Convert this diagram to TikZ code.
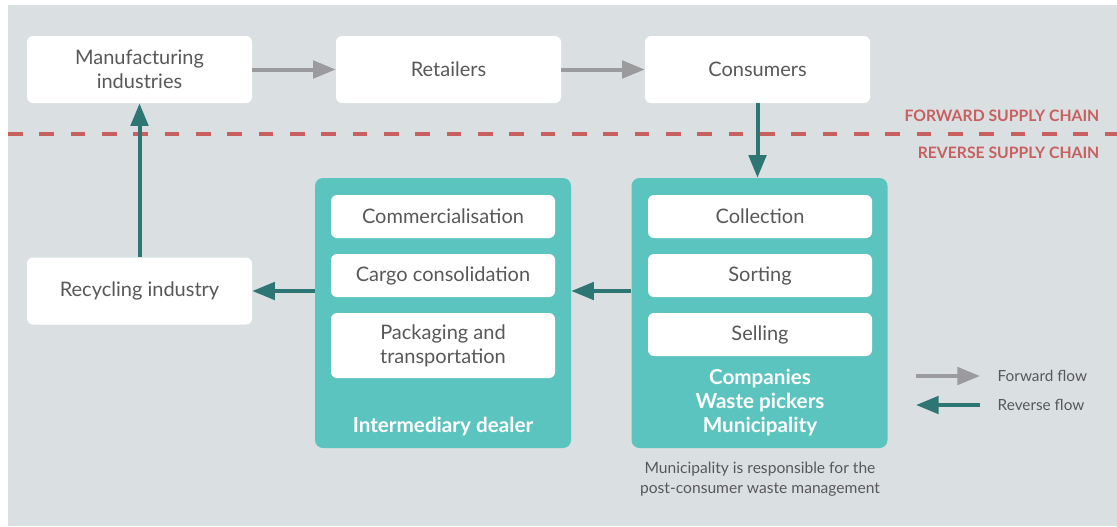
\documentclass[tikz,border=0pt]{standalone}
\usepackage{fontspec}
\setmainfont{Lato}
\usetikzlibrary{arrows.meta,positioning}
\definecolor{bggray}{HTML}{DADFE1}
\definecolor{tealbox}{HTML}{5BC4BE}
\definecolor{tealdark}{HTML}{2D7674}
\definecolor{flowgray}{HTML}{9B9B9D}
\definecolor{chainred}{HTML}{C8605F}
\definecolor{txtgray}{HTML}{58585A}

\begin{document}
\begin{tikzpicture}[x=0.75pt,y=-0.75pt,
    box/.style={fill=white,rounded corners=4.5pt,text=txtgray,align=center,
      font=\fontsize{15}{18}\selectfont,minimum width=168.75pt,minimum height=50.25pt,inner sep=0pt},
    task/.style={box,minimum width=168pt,minimum height=32.25pt},
    group/.style={fill=tealbox,rounded corners=6pt,minimum width=192pt,minimum height=202.5pt,inner sep=0pt},
    grouplabel/.style={text=white,align=center,font=\bfseries\fontsize{15.5}{18}\selectfont},
    fwd/.style={flowgray,line width=3pt,-{Triangle[length=17pt,width=13pt]}},
    rev/.style={tealdark,line width=3pt,-{Triangle[length=17pt,width=13pt]}},
    chain/.style={text=chainred,font=\fontsize{11.8}{13}\selectfont\bfseries,anchor=east}]
  \useasboundingbox (0,0) rectangle (1117,526);
  \fill[bggray] (8,5) rectangle (1117,526);

  % forward chain
  \node[box] (manu) at (139.5,69.5) {Manufacturing\\industries};
  \node[box] (retail) at (448.5,69.5) {Retailers};
  \node[box] (cons) at (757.5,69.5) {Consumers};
  \draw[fwd] (manu) -- (retail);
  \draw[fwd] (retail) -- (cons);

  % divider
  \draw[chainred,line width=3pt,dash pattern=on 11pt off 12.5pt] (8,134) -- (1117,134);
  \node[chain] (fwdlabel) at (1104,116) {FORWARD SUPPLY CHAIN};
  \node[chain] (revlabel) at (1104,153) {REVERSE SUPPLY CHAIN};

  % reverse chain
  \node[box] (recyc) at (139.5,291) {Recycling industry};

  \node[group] (dealer) at (443,313) {};
  \node[task] (commerce) at (443,216.5) {Commercialisation};
  \node[task] (cargo) at (443,275.5) {Cargo consolidation};
  \node[task,minimum height=48.75pt] (pack) at (443,345.5) {Packaging and\\transportation};
  \node[grouplabel] (dealerlabel) at (443,427) {Intermediary dealer};

  \node[group] (collect) at (759.5,313) {};
  \node[task] (collection) at (760,216.5) {Collection};
  \node[task] (sorting) at (760,275.5) {Sorting};
  \node[task] (selling) at (760,334.5) {Selling};
  \node[grouplabel] (actors) at (760,403) {Companies\\Waste pickers\\Municipality};

  \node[text=txtgray,align=center,font=\fontsize{11.7}{15}\selectfont] (note) at (760,479)
    {Municipality is responsible for the\\post-consumer waste management};

  \draw[rev] (cons.south) -- (cons.south |- collect.north);
  \draw[rev] (collect.west |- recyc) -- (dealer.east |- recyc);
  \draw[rev] (dealer.west |- recyc) -- (recyc.east);
  \draw[rev] (recyc) -- (manu);

  % legend
  \coordinate (fa) at (916,376);
  \coordinate (fb) at (980,376);
  \coordinate (ra) at (980,405);
  \coordinate (rb) at (916,405);
  \draw[fwd] (fa) -- (fb);
  \draw[rev] (ra) -- (rb);
  \node[text=txtgray,anchor=west,font=\fontsize{11.5}{13}\selectfont] (fwdkey) at (993,376) {Forward flow};
  \node[text=txtgray,anchor=west,font=\fontsize{11.5}{13}\selectfont] (revkey) at (993,405) {Reverse flow};
\end{tikzpicture}
\end{document}
